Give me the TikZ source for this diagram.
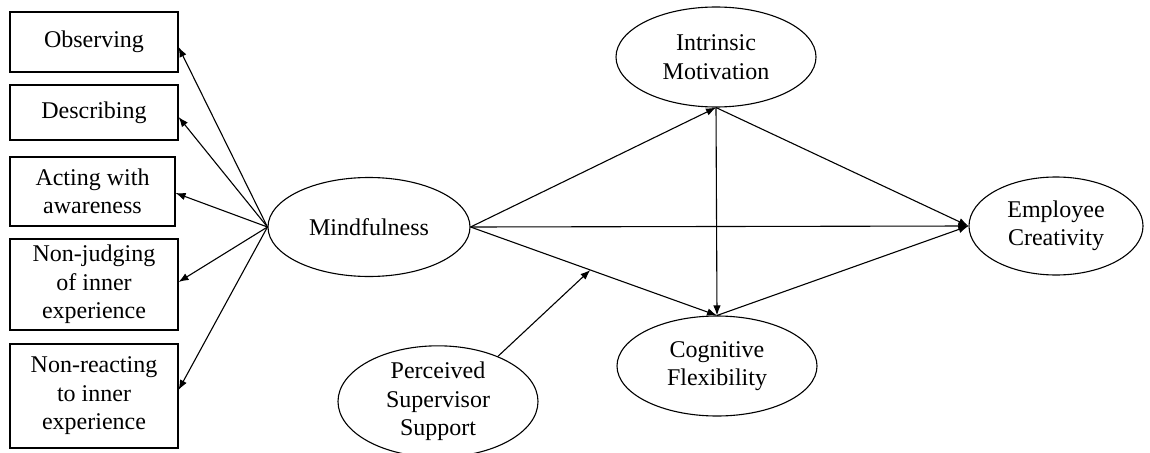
\documentclass[tikz,border=0pt]{standalone}
\usepackage{fontspec}
\setmainfont{Liberation Serif}
\usetikzlibrary{shapes.geometric,arrows.meta,calc}
\tikzset{
  ind/.style={draw, line width=1.1pt, inner sep=0pt, align=center, font=\fontsize{24}{28.5}\selectfont},
  lat/.style={draw, ellipse, line width=1.1pt, inner sep=0pt, align=center, font=\fontsize{24}{28.5}\selectfont},
  arr/.style={line width=1.1pt, -{Latex[length=10pt,width=7.5pt]}}
}
\begin{document}
\begin{tikzpicture}[x=1pt,y=-1pt]
\useasboundingbox (0,0) rectangle (1150,452);
% indicator boxes
\node[ind, minimum width=168pt, minimum height=60pt]  (obs)  at (94,42)    {Observing};
\node[ind, minimum width=168pt, minimum height=55pt]  (desc) at (94,112.5) {Describing};
\node[ind, minimum width=165pt, minimum height=69pt]  (act)  at (92.5,191.5) {Acting with\\awareness};
\node[ind, minimum width=168pt, minimum height=91pt]  (nonj) at (94,284.5) {Non-judging\\of inner\\experience};
\node[ind, minimum width=168pt, minimum height=104pt] (nonr) at (94,396)   {Non-reacting\\to inner\\experience};
% latent variables
\node[lat, minimum width=202pt, minimum height=99pt]  (mind) at (369,227) {Mindfulness};
\node[lat, minimum width=200pt, minimum height=100pt] (im)   at (716,57)  {Intrinsic\\Motivation};
\node[lat, minimum width=200pt, minimum height=100pt] (cf)   at (717,366) {Cognitive\\Flexibility};
\node[lat, minimum width=174pt, minimum height=98pt]  (ec)   at (1056,226) {Employee\\Creativity};
\node[lat, minimum width=200pt, minimum height=96pt]  (pss)  at (438,401.5) {Perceived\\Supervisor\\Support};
% measurement arrows
\draw[arr] (mind.west) -- ([yshift=-5pt]obs.east);
\draw[arr] (mind.west) -- ([yshift=-4.5pt]desc.east);
\draw[arr] (mind.west) -- ([yshift=-1.5pt]act.east);
\draw[arr] (mind.west) -- ([yshift=2.5pt]nonj.east);
\draw[arr] (mind.west) -- ([yshift=6pt]nonr.east);
% structural paths
\draw[arr] (mind.east) -- (im.south);
\draw[arr] (mind.east) -- (ec.west);
\draw[arr] (mind.east) -- (cf.north);
\draw[arr] (im.south) -- (ec.west);
\draw[arr] (im.south) -- (cf.north);
\draw[arr] (cf.north) -- (ec.west);
% moderation
\coordinate (mod) at ($(mind.east)!0.486!(cf.north)$);
\draw[arr] (pss.37) -- (mod);
\end{tikzpicture}
\end{document}
